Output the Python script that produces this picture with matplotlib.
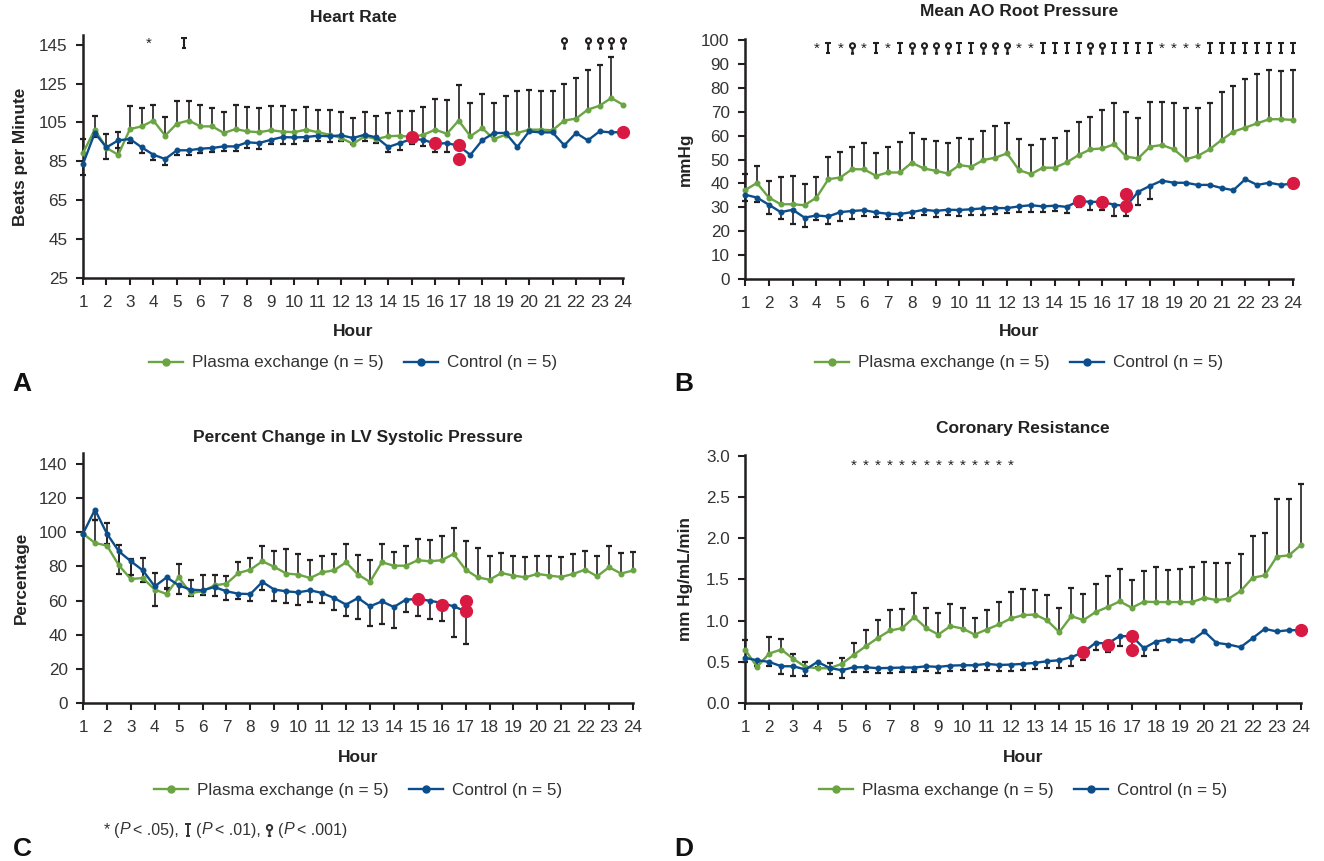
import numpy as np
import matplotlib
matplotlib.use("Agg")
import matplotlib.pyplot as plt
from matplotlib.lines import Line2D
from matplotlib.path import Path

plt.rcParams['font.family'] = ['Liberation Sans', 'DejaVu Sans']

GREEN = '#6AA443'
BLUE = '#0C4E8B'
RED = '#D81A42'
INK = '#231F20'

# half-hour sampling, hour 1 to 24
hours = np.arange(1, 24.5, 0.5)

# ---- A: heart rate ----
hr_pe = [89.3, 101.3, 91.9, 88.4, 101.6, 103.0, 106.0, 98.2, 104.4, 106.0,
         103.0, 103.0, 99.6, 101.6, 100.4, 100.0, 101.0, 100.3, 100.0, 101.3,
         100.0, 98.7, 97.0, 94.0, 97.9, 96.5, 97.9, 98.2, 97.5, 98.7,
         101.3, 99.2, 106.0, 97.9, 102.1, 96.5, 98.7, 99.6, 101.3, 101.3,
         101.0, 106.0, 107.0, 111.6, 113.6, 117.6, 114.1]
hr_pe_sd = [7, 7, 7, 11.5, 11.7, 9.4, 8, 9.6, 11.5, 10,
            11, 9.4, 11, 12.5, 12.5, 12.6, 12.6, 13, 11.6, 11.6,
            11.6, 12.9, 13.4, 13.3, 12.3, 11.6, 12, 12.9, 13.2, 14.2,
            15.8, 17.2, 18.4, 17.1, 17.7, 18.5, 19.7, 21.4, 20.6, 20,
            20.3, 18.9, 20.7, 20.2, 20.9, 20.9, 0]
hr_ctl = [83.6, 99.6, 92.2, 95.8, 96.5, 92.2, 88.4, 86.2, 90.7, 90.7,
          91.5, 91.9, 92.7, 92.7, 94.8, 94.4, 96.1, 97.5, 97.3, 97.5,
          98.2, 97.9, 98.4, 97.0, 98.7, 97.3, 92.4, 94.4, 96.5, 96.1,
          94.0, 94.4, 93.0, 88.3, 95.8, 99.6, 99.6, 92.4, 100.4, 99.9,
          99.9, 93.2, 99.6, 95.8, 100.4, 99.9, 100.1]
hr_ctl_sd = [5.5, 2, 6, 4, 2, 3, 2.5, 3, 2.3, 2.3,
             2.2, 2.3, 2.6, 2.6, 3, 3, 2, 3.5, 3.3, 2.2,
             2.9, 3.1, 3, 3, 3, 2.8, 2.8, 3.4, 2.5, 3.4,
             4.4, 4.8, 0, 0, 0, 0, 0, 0, 0, 0,
             0, 0, 0, 0, 0, 0, 0]
hr_red_x = [15, 16, 17, 17, 24]
hr_red_y = [97.5, 94.2, 93.2, 86.2, 100.2]
hr_sig_x = [3.8, 5.3, 21.5, 22.5, 23, 23.5, 24]
hr_sig = list('*TPPPPP')

# ---- B: mean AO root pressure ----
ao_pe = [37.2, 40.2, 34.1, 31.3, 31.3, 30.9, 34.1, 41.8, 42.5, 46.0,
         45.9, 43.2, 44.6, 44.6, 48.7, 46.3, 45.3, 44.2, 47.7, 47.0,
         49.8, 50.8, 52.6, 45.6, 43.9, 46.6, 46.6, 48.8, 51.9, 54.3,
         54.7, 56.4, 51.2, 50.5, 55.4, 56.1, 54.3, 50.1, 51.5, 54.3,
         58.2, 61.7, 63.4, 65.2, 66.9, 66.9, 66.6]
ao_pe_sd = [6.7, 7.2, 6.9, 11.5, 12, 8.8, 8.7, 9.4, 10.8, 9.1,
            10.9, 9.7, 10.5, 12.6, 12.6, 12.2, 12.5, 12.6, 11.3, 11.5,
            12.1, 13.4, 12.6, 12.9, 12.3, 11.9, 12.6, 13.1, 13.7, 13.7,
            16.1, 17.2, 18.6, 17, 18.7, 18.2, 19.3, 21.4, 19.9, 19.6,
            19.9, 19.2, 20.5, 20.8, 20.8, 20.3, 21.1]
ao_ctl = [35.3, 34.1, 31.1, 28.0, 29.0, 25.7, 26.6, 26.2, 28.0, 28.5,
          28.8, 27.9, 27.3, 27.2, 28.0, 29.0, 28.5, 29.0, 28.9, 29.2,
          29.6, 29.7, 29.7, 30.4, 30.9, 30.4, 30.7, 30.2, 32.7, 32.3,
          32.3, 31.1, 30.6, 36.5, 39.0, 41.2, 40.3, 40.3, 39.4, 39.4,
          38.1, 37.2, 41.8, 39.4, 40.3, 39.4, 40.0]
ao_ctl_sd = [2.5, 2, 4, 2.8, 6, 4, 2, 3, 3.7, 3.5,
             2.6, 2, 2, 2.7, 2.3, 2.3, 2.7, 2.4, 2.5, 2.5,
             2.9, 2.5, 2.1, 2.2, 2.7, 2.4, 2.4, 2.5, 2.5, 3.2,
             3.5, 4.9, 4.4, 5.6, 5.3, 0, 0, 0, 0, 0,
             0, 0, 0, 0, 0, 0, 0]
ao_red_x = [15, 16, 17, 17, 24]
ao_red_y = [32.7, 32.3, 30.6, 35.8, 40.0]
ao_sig_x = np.arange(4, 24.5, 0.5)
ao_sig = list('*T*P*T*TPPPPTTPPP**TTTTPPTTTT****TTTTTTTT')

# ---- C: percent change in LV systolic pressure ----
lv_pe = [99.2, 93.7, 92.2, 80.6, 72.6, 73.2, 66.4, 63.8, 73.6, 64.4,
         65.4, 68.9, 69.9, 76.1, 78.1, 83.0, 79.7, 75.8, 75.2, 73.2,
         76.5, 77.7, 82.4, 75.2, 70.9, 82.4, 80.4, 80.4, 83.6, 83.0,
         83.6, 87.3, 78.1, 73.6, 72.2, 76.1, 74.6, 73.6, 75.6, 74.6,
         73.8, 75.6, 78.1, 74.2, 79.5, 75.8, 77.6]
lv_pe_sd = [0, 13.7, 13.2, 12, 11.7, 12, 10, 3, 7.8, 7.5,
            9.4, 6, 4.3, 6.5, 6.8, 8.8, 9.2, 14.5, 12.1, 10.8,
            9.5, 9.6, 10.9, 11.5, 12.7, 10.9, 7.9, 11.4, 12.5, 12.3,
            14.4, 15, 16.8, 17.2, 13.7, 11.8, 11.3, 11.9, 10.7, 11.3,
            11.7, 11.9, 11.1, 11.7, 12.7, 12.1, 11]
lv_ctl = [99.2, 113.2, 99.2, 88.8, 83.0, 77.7, 68.3, 73.6, 68.9, 66.4,
          66.0, 67.9, 65.4, 64.0, 63.8, 70.9, 66.4, 65.4, 64.8, 66.0,
          64.4, 61.5, 57.6, 61.5, 56.6, 59.5, 56.2, 60.5, 60.9, 59.9,
          58.6, 56.6, 53.7]
lv_ctl_sd = [0, 6, 6, 13, 8, 7, 11.4, 6, 5, 4,
             3, 5, 5, 3, 4, 5, 6.8, 6.8, 7.2, 7,
             5.9, 6.8, 6.8, 12.3, 11.3, 13.2, 12.3, 7.4, 10, 10.7,
             10.4, 17.9, 19]
lv_red_x = [15, 16, 17, 17]
lv_red_y = [60.9, 57.2, 53.7, 59.9]

# ---- D: coronary resistance ----
cr_pe = [0.649, 0.438, 0.600, 0.649, 0.535, 0.438, 0.422, 0.422, 0.475, 0.584,
         0.690, 0.790, 0.880, 0.908, 1.042, 0.908, 0.831, 0.933, 0.904, 0.831,
         0.892, 0.953, 1.026, 1.066, 1.074, 1.002, 0.860, 1.054, 1.006, 1.103,
         1.164, 1.233, 1.156, 1.229, 1.225, 1.225, 1.225, 1.225, 1.277, 1.249,
         1.265, 1.358, 1.520, 1.549, 1.776, 1.792, 1.918]
cr_pe_sd = [0.11, 0, 0.2, 0.13, 0.065, 0.06, 0, 0.065, 0.073, 0.146,
            0.194, 0.212, 0.247, 0.235, 0.296, 0.248, 0.256, 0.271, 0.252, 0.199,
            0.231, 0.276, 0.32, 0.313, 0.292, 0.308, 0.288, 0.337, 0.316, 0.344,
            0.381, 0.397, 0.336, 0.373, 0.425, 0.389, 0.405, 0.429, 0.438, 0.454,
            0.438, 0.446, 0.507, 0.519, 0.705, 0.689, 0.737]
cr_ctl = [0.548, 0.519, 0.499, 0.446, 0.446, 0.406, 0.499, 0.426, 0.398, 0.434,
          0.434, 0.422, 0.426, 0.430, 0.430, 0.446, 0.438, 0.454, 0.458, 0.458,
          0.475, 0.462, 0.466, 0.475, 0.487, 0.507, 0.519, 0.556, 0.617, 0.730,
          0.722, 0.811, 0.811, 0.665, 0.746, 0.770, 0.762, 0.762, 0.868, 0.730,
          0.710, 0.677, 0.787, 0.900, 0.868, 0.884, 0.884]
cr_ctl_sd = [0.05, 0.07, 0.05, 0.09, 0.12, 0.08, 0.06, 0.08, 0.09, 0.06,
             0.06, 0.06, 0.06, 0.05, 0.05, 0.06, 0.07, 0.06, 0.06, 0.07,
             0.07, 0.07, 0.08, 0.08, 0.08, 0.08, 0.09, 0.11, 0.1, 0.09,
             0.1, 0.12, 0.12, 0.1, 0.1, 0, 0, 0, 0, 0,
             0, 0, 0, 0, 0, 0, 0]
cr_red_x = [15, 16, 17, 17, 24]
cr_red_y = [0.617, 0.71, 0.81, 0.649, 0.884]
cr_sig_x = np.arange(5.5, 12.5, 0.5)
cr_sig = ['*'] * 14

# the P < .01 and P < .001 signs: no installed font has them, so draw as shapes
M, L = Path.MOVETO, Path.LINETO
TACK = Path([(-0.3, 0.5), (0.3, 0.5), (0, 0.5), (0, -0.5), (-0.15, -0.5), (0.15, -0.5)],
            [M, L, M, L, M, L])
PIN = Path.make_compound_path(
    Path.circle((0, 0.26), 0.24),
    Path([(0, 0.02), (0, -0.5), (-0.15, -0.5), (0.15, -0.5)], [M, L, M, L]))
SHAPES = {'T': TACK, 'P': PIN}

W, H = 1324, 861
fig = plt.figure(figsize=(W / 100, H / 100), dpi=100)


def box(l, r, t, b):
    return [l / W, 1 - b / H, (r - l) / W, (b - t) / H]


def fx(x):
    return x / W


def fy(y):
    return 1 - y / H


def panel(ax, pe, pe_sd, ctl, ctl_sd, red_x, red_y, ylim, yticks, fmt='{:g}'):
    pe, pe_sd = np.asarray(pe), np.asarray(pe_sd)
    ctl, ctl_sd = np.asarray(ctl), np.asarray(ctl_sd)
    x_ctl = hours[:len(ctl)]
    # SD bars: up for plasma exchange, down for control
    m = pe_sd > 0
    ax.vlines(hours[m], pe[m], pe[m] + pe_sd[m], color=INK, lw=1.2, zorder=2, clip_on=False)
    ax.plot(hours[m], pe[m] + pe_sd[m], ls='none', marker='_', ms=4.5, mew=1.6,
            color=INK, zorder=2, clip_on=False)
    m = ctl_sd > 0
    ax.vlines(x_ctl[m], ctl[m] - ctl_sd[m], ctl[m], color=INK, lw=1.2, zorder=2, clip_on=False)
    ax.plot(x_ctl[m], ctl[m] - ctl_sd[m], ls='none', marker='_', ms=4.5, mew=1.6,
            color=INK, zorder=2, clip_on=False)
    ax.plot(hours, pe, color=GREEN, lw=1.7, marker='o', ms=3.3, zorder=3, clip_on=False)
    ax.plot(x_ctl, ctl, color=BLUE, lw=1.7, marker='o', ms=3.3, zorder=4, clip_on=False)
    ax.plot(red_x, red_y, ls='none', marker='o', ms=8.5, color=RED, zorder=5, clip_on=False)

    ax.set_xlim(1, 24)
    ax.set_ylim(*ylim)
    ax.set_xticks(range(1, 25))
    ax.set_yticks(yticks)
    ax.set_yticklabels([fmt.format(v) for v in yticks])
    for s in ['top', 'right']:
        ax.spines[s].set_visible(False)
    for s in ['left', 'bottom']:
        ax.spines[s].set_linewidth(1.8)
        ax.spines[s].set_color(INK)
    ax.tick_params(axis='both', direction='out', length=5, width=1.5, color=INK,
                   labelsize=12.3, labelcolor='#333333')
    ax.tick_params(axis='x', pad=7)
    ax.tick_params(axis='y', pad=6)


def sig_marks(ax, xs, syms, y_star, y_shape):
    for x, s in zip(xs, syms):
        if s == '*':
            ax.text(x, y_star, '*', ha='center', va='baseline', fontsize=11, color=INK)
        else:
            ax.plot([x], [y_shape], ls='none', marker=SHAPES[s], ms=7.5, mfc='none',
                    mec=INK, mew=1.5, clip_on=False)


axA = fig.add_axes(box(83, 623, 35, 278))
axB = fig.add_axes(box(745, 1293, 39, 279))
axC = fig.add_axes(box(83, 633, 453, 703))
axD = fig.add_axes(box(745, 1301, 455, 703))

panel(axA, hr_pe, hr_pe_sd, hr_ctl, hr_ctl_sd, hr_red_x, hr_red_y,
      (25, 150), [25, 45, 65, 85, 105, 125, 145])
panel(axB, ao_pe, ao_pe_sd, ao_ctl, ao_ctl_sd, ao_red_x, ao_red_y,
      (0, 100.5), list(range(0, 101, 10)))
panel(axC, lv_pe, lv_pe_sd, lv_ctl, lv_ctl_sd, lv_red_x, lv_red_y,
      (0, 146.4), list(range(0, 141, 20)))
panel(axD, cr_pe, cr_pe_sd, cr_ctl, cr_ctl_sd, cr_red_x, cr_red_y,
      (0, 3.01), [0, 0.5, 1.0, 1.5, 2.0, 2.5, 3.0], fmt='{:.1f}')

sig_marks(axA, hr_sig_x, hr_sig, 143.5, 146.0)
sig_marks(axB, ao_sig_x, ao_sig, 94.7, 96.9)
sig_marks(axD, cr_sig_x, cr_sig, 2.83, 2.9)

# titles, axis labels, legends, panel letters
layout = [
    # axes, title, title_y, ylabel, ylabel_x, hour_y, legend_y, letter, letter_xy
    (axA, 'Heart Rate', 17, 'Beats per Minute', 21, 332, 363, 'A', (22, 384)),
    (axB, 'Mean AO Root Pressure', 12, 'mmHg', 685, 332, 363, 'B', (684, 384)),
    (axC, 'Percent Change in LV Systolic Pressure', 437, 'Percentage', 21, 757, 790, 'C', (22, 849)),
    (axD, 'Coronary Resistance', 429, 'mm Hg/mL/min', 685, 757, 790, 'D', (684, 849)),
]
handles = [Line2D([], [], color=GREEN, lw=1.7, marker='o', ms=5),
           Line2D([], [], color=BLUE, lw=1.7, marker='o', ms=5)]
labels = ['Plasma exchange (n = 5)', 'Control (n = 5)']

for ax, title, ty, ylab, yx, hy, ly, letter, lxy in layout:
    pos = ax.get_position()
    cx = (pos.x0 + pos.x1) / 2
    cy = (pos.y0 + pos.y1) / 2
    fig.text(cx, fy(ty), title, ha='center', va='center', fontsize=12.5,
             fontweight='bold', color='#222222')
    fig.text(fx(yx), cy, ylab, ha='center', va='center', rotation=90,
             fontsize=12.3, fontweight='bold', color='#222222')
    fig.text(cx, fy(hy), 'Hour', ha='center', va='center', fontsize=12.5,
             fontweight='bold', color='#222222')
    fig.legend(handles, labels, loc='center', bbox_to_anchor=(cx, fy(ly)), ncol=2,
               frameon=False, fontsize=12.3, handlelength=2.0, handletextpad=0.5,
               columnspacing=1.2, labelcolor='#333333')
    fig.text(fx(lxy[0]), fy(lxy[1]), letter, ha='center', va='center', fontsize=19,
             fontweight='bold', color='#111111')

# footnote: "* (P < .05), T (P < .01), P (P < .001)" with italic P and drawn signs
renderer = fig.canvas.get_renderer()
parts = [('*', False, 4), ('(', False, 0), ('P', True, 3), ('< .05),', False, 5),
         ('#T', False, 5), ('(', False, 0), ('P', True, 3), ('< .01),', False, 5),
         ('#P', False, 5), ('(', False, 0), ('P', True, 3), ('< .001)', False, 0)]
x = 104
y_foot = 830
for s, italic, gap in parts:
    if s.startswith('#'):
        w = 7
        fig.add_artist(Line2D([fx(x + w / 2)], [fy(y_foot)], transform=fig.transFigure,
                              ls='none', marker=SHAPES[s[1]], ms=8, mfc='none',
                              mec='#333333', mew=1.4))
        x += w + gap
        continue
    t = fig.text(fx(x), fy(y_foot), s, ha='left', va='center', fontsize=11.5,
                 style='italic' if italic else 'normal', color='#333333')
    x += t.get_window_extent(renderer=renderer).width + gap

fig.savefig('out.png', dpi=100)
